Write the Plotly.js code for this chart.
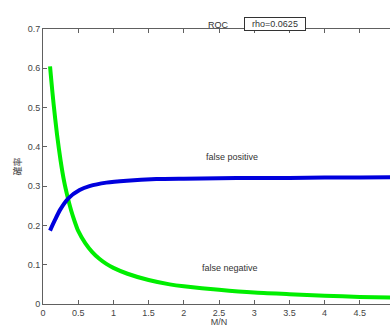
<!DOCTYPE html>
<html>
<head>
<meta charset="utf-8">
<script src="https://cdn.plot.ly/plotly-3.0.1.min.js"></script>
<style>html,body{margin:0;padding:0;overflow:hidden;background:#fff;}</style>
</head>
<body>
<div id="chart"></div>
<script>
const fpX = [0.1, 0.17, 0.24, 0.36, 0.52, 0.66, 0.9, 1.19, 1.61, 2.0, 2.5, 3.0, 3.5, 4.0, 4.5, 5.0];
const fpY = [0.187, 0.214, 0.239, 0.269, 0.29, 0.300, 0.309, 0.314, 0.318, 0.319, 0.320, 0.321, 0.321, 0.322, 0.322, 0.323];
const fnX = [0.1, 0.12, 0.15, 0.2, 0.25, 0.3, 0.35, 0.4, 0.45, 0.5, 0.6, 0.7, 0.8, 0.9, 1.0, 1.2, 1.5, 1.8, 2.0, 2.5, 3.0, 3.5, 4.0, 4.5, 5.0];
const fnY = [0.605, 0.565, 0.51, 0.43, 0.365, 0.312, 0.272, 0.238, 0.21, 0.186, 0.155, 0.132, 0.115, 0.102, 0.092, 0.077, 0.061, 0.05, 0.045, 0.036, 0.029, 0.025, 0.021, 0.018, 0.016];
const titleText = 'ROC';
const rhoText = 'rho=0.0625';
const xTitle = 'M/N';
const yTitle = '確率';
const labelFP = 'false positive';
const labelFN = 'false negative';

const axisCommon = {
  showline: true, linecolor: '#606060', linewidth: 1,
  ticks: 'inside', ticklen: 4, tickcolor: '#606060', mirror: 'ticks',
  showgrid: false, zeroline: false,
  tickfont: {family: 'Liberation Sans, Arial, sans-serif', size: 9, color: '#444'}
};

const data = [
  {x: fnX, y: fnY, mode: 'lines', line: {color: '#00ee00', width: 4, shape: 'spline', smoothing: 0.6}, hoverinfo: 'skip'},
  {x: fpX, y: fpY, mode: 'lines', line: {color: '#0000dd', width: 4, shape: 'spline', smoothing: 0.6}, hoverinfo: 'skip'}
];

const layout = {
  width: 400, height: 327,
  margin: {l: 43, r: 5, t: 29, b: 23},
  paper_bgcolor: '#fff', plot_bgcolor: '#fff',
  showlegend: false,
  xaxis: Object.assign({}, axisCommon, {
    range: [0, 5], dtick: 0.5, tick0: 0,
    title: {text: xTitle, standoff: 3, font: {family: 'Liberation Sans, Arial, sans-serif', size: 9, color: '#444'}}
  }),
  yaxis: Object.assign({}, axisCommon, {
    range: [0, 0.7], dtick: 0.1, tick0: 0,
    title: {text: yTitle, standoff: 4, font: {family: 'Noto Sans CJK JP, sans-serif', size: 9, color: '#444'}}
  }),
  annotations: [
    {xref: 'paper', yref: 'paper', x: (218 - 43) / 352, y: 1 + 11 / 275, text: titleText, showarrow: false,
     font: {family: 'Liberation Sans, Arial, sans-serif', size: 9, color: '#333'}},
    {xref: 'paper', yref: 'paper', x: (274.5 - 43) / 352, y: 1 + 12 / 275, text: rhoText, showarrow: false,
     bordercolor: '#333', borderwidth: 1, borderpad: 1, bgcolor: '#fff', width: 58,
     font: {family: 'Liberation Sans, Arial, sans-serif', size: 9, color: '#333'}},
    {x: 2.68, y: 0.374, text: labelFP, showarrow: false,
     font: {family: 'Liberation Sans, Arial, sans-serif', size: 9, color: '#333'}},
    {x: 2.66, y: 0.092, text: labelFN, showarrow: false,
     font: {family: 'Liberation Sans, Arial, sans-serif', size: 9, color: '#333'}}
  ]
};

Plotly.newPlot('chart', data, layout, {displayModeBar: false, staticPlot: true});
</script>
</body>
</html>
